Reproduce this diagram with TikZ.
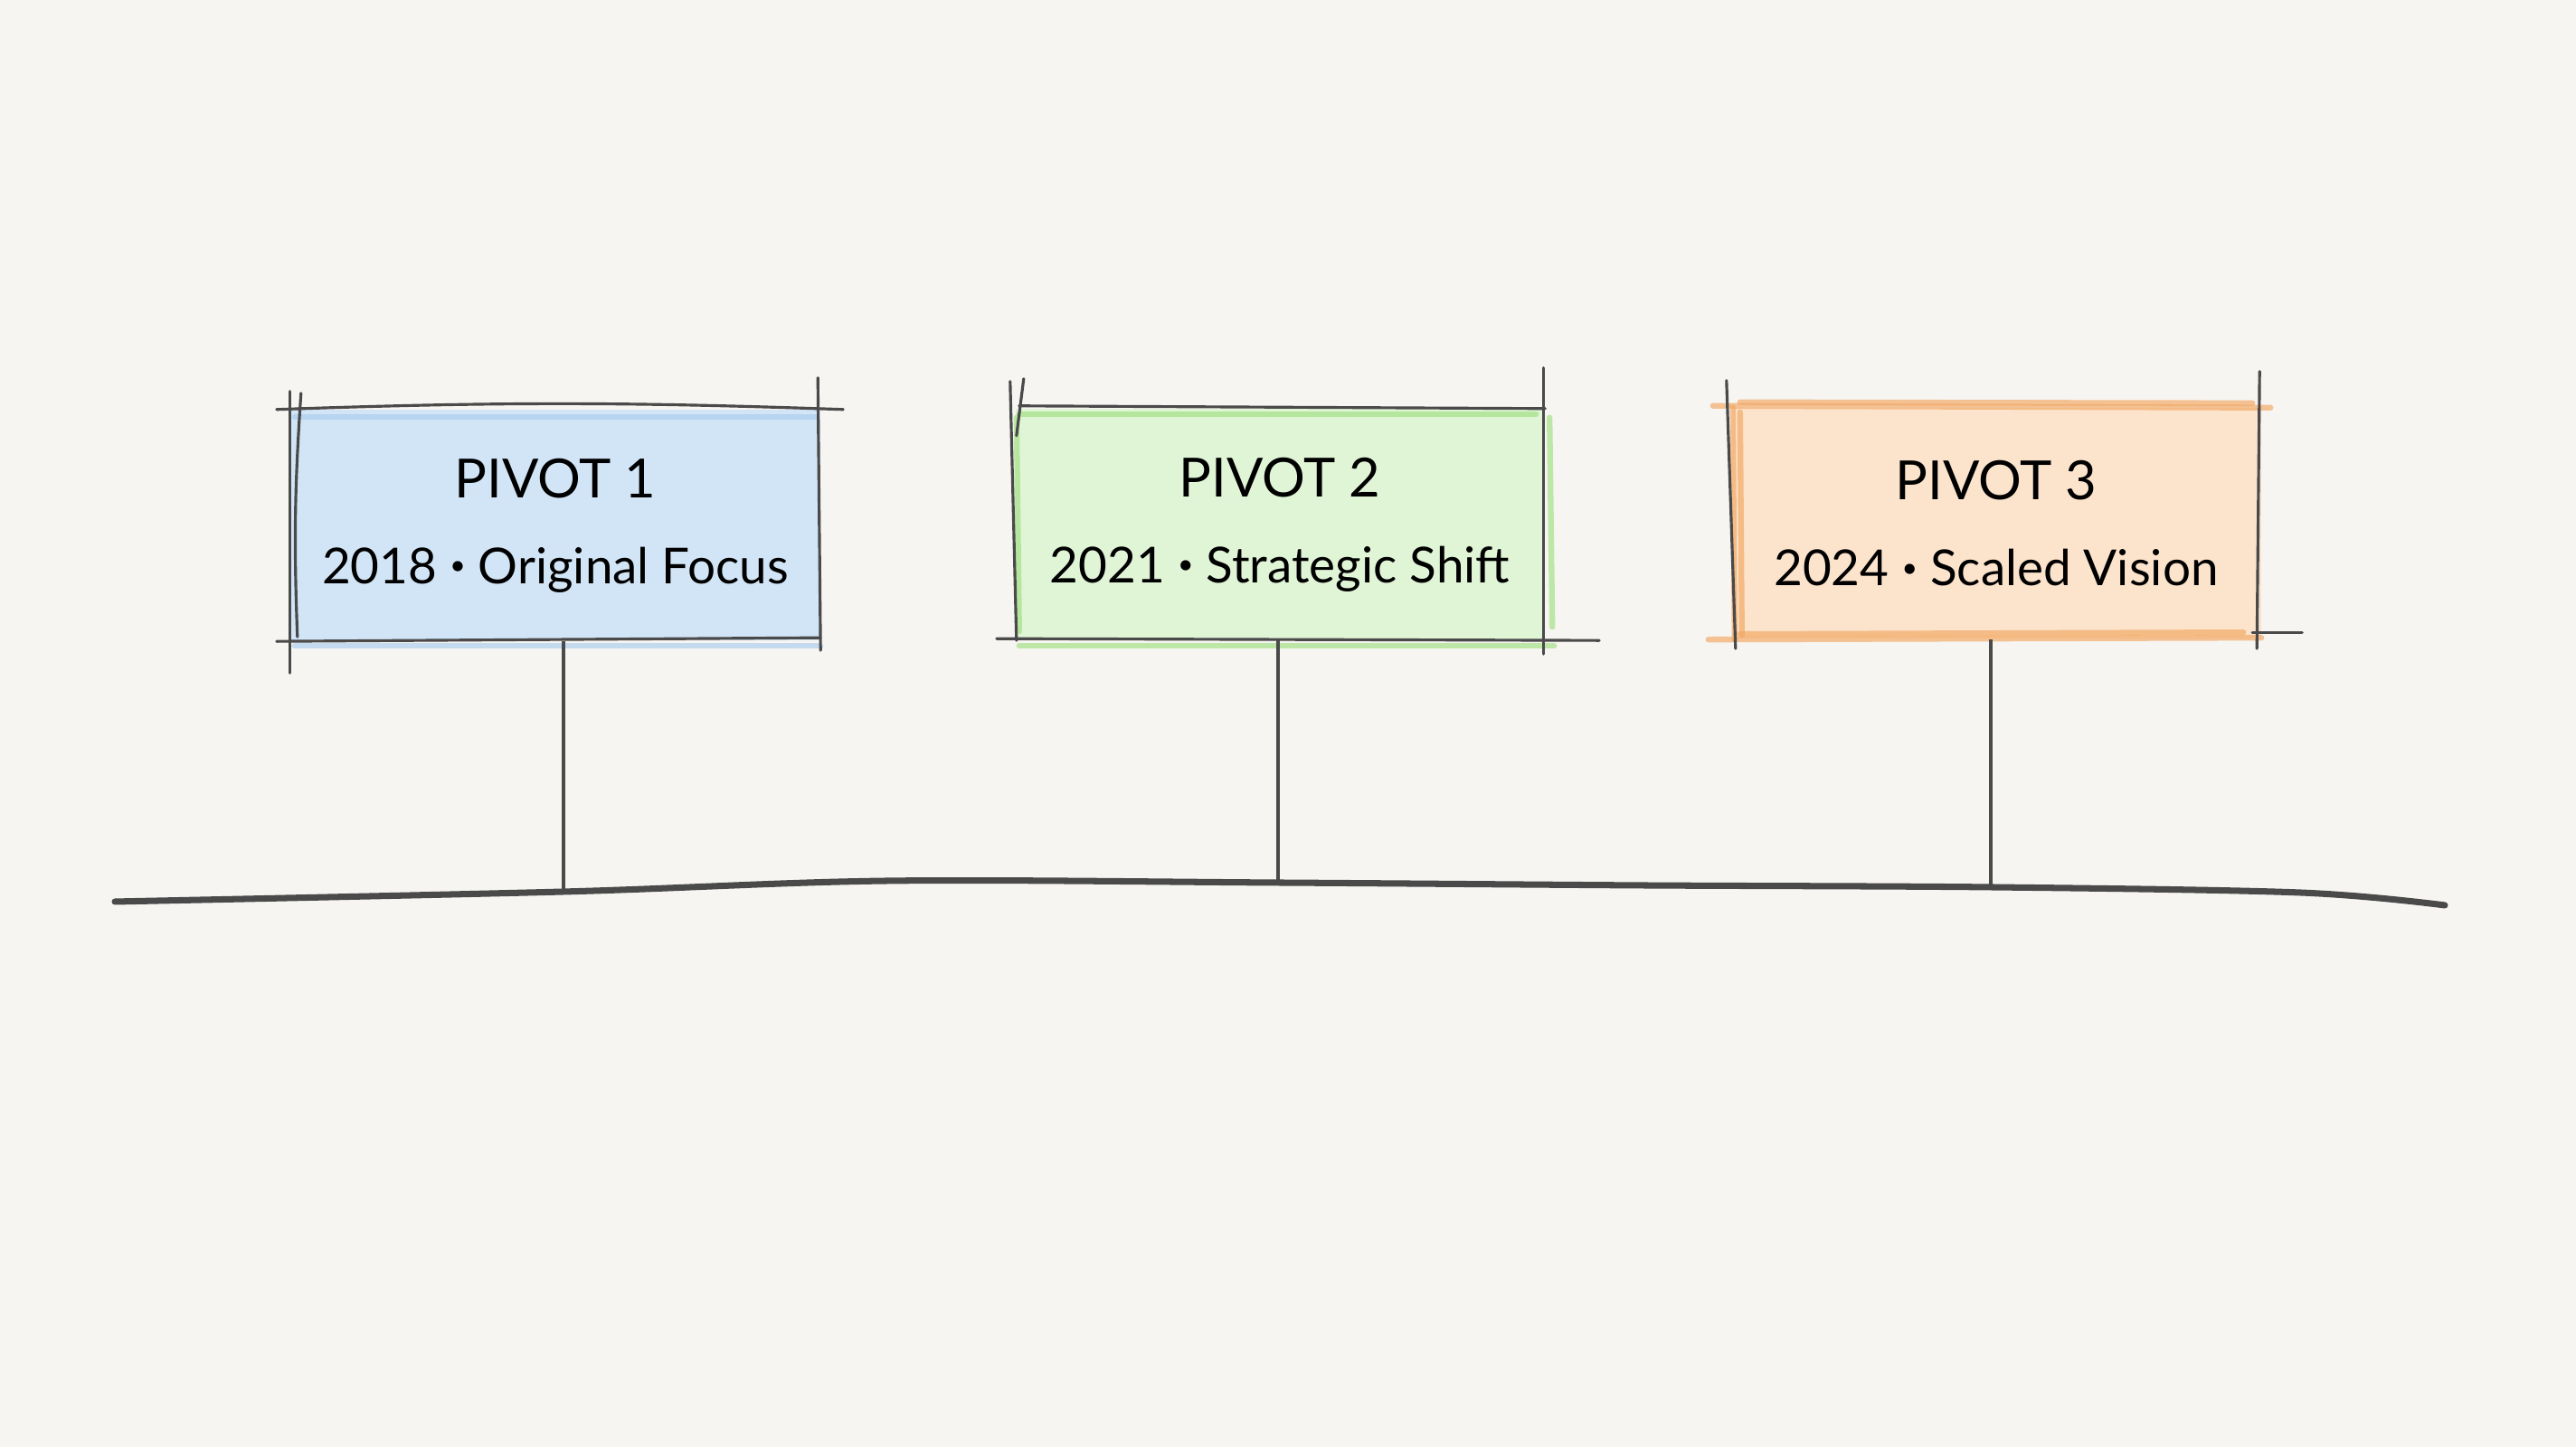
\documentclass[tikz,border=0pt]{standalone}
\usepackage{fontspec}
\setmainfont{Lato}
\usepackage{tikz}
\usetikzlibrary{positioning,calc}

\definecolor{paper}{HTML}{F6F5F2}
\definecolor{pencil}{HTML}{4A4A4A}
\definecolor{blueFill}{HTML}{D2E5F6}
\definecolor{greenFill}{HTML}{E0F4D6}
\definecolor{orangeFill}{HTML}{FBE3CC}
\definecolor{greenLine}{HTML}{9FE07F}
\definecolor{orangeLine}{HTML}{F2A660}
\definecolor{blueLine}{HTML}{A9CCEE}
\newcommand{\dotsep}{\raisebox{0.35ex}{\scalebox{0.55}{•}}}

\begin{document}
\begin{tikzpicture}[pivot/.style={rectangle,minimum width=5.85cm,minimum height=2.55cm,align=center,inner sep=0pt,font=\fontsize{15.6}{18}\selectfont},
pencilline/.style={line width=0.9pt,draw=pencil,line cap=round},
tint/.style={line width=1.8pt,line cap=round,opacity=0.65},
stem/.style={line width=1pt,draw=pencil},
timeline/.style={line width=2pt,draw=pencil,line cap=round}]
\useasboundingbox[fill=paper] (0,0) rectangle (28.48,16);

\node(p1)[pivot,fill=blueFill] at (6.14,10.19) {{\fontsize{17}{20}\selectfont PIVOT 1}\\[9pt]2018 \dotsep{} Original Focus};
\node(p2)[pivot,fill=greenFill] at (14.15,10.2) {{\fontsize{17}{20}\selectfont PIVOT 2}\\[9pt]2021 \dotsep{} Strategic Shift};
\node(p3)[pivot,fill=orangeFill] at (22.07,10.21) {{\fontsize{17}{20}\selectfont PIVOT 3}\\[9pt]2024 \dotsep{} Scaled Vision};

\draw [tint,draw=blueLine] ($(p1.south west)+(0.05,-0.05)$) -- ($(p1.south east)+(0,-0.05)$);
\draw [tint,draw=blueLine] ($(p1.north west)+(0.05,-0.08)$) -- ($(p1.north east)+(-0.05,-0.08)$);
\draw [tint,draw=greenLine] ($(p2.north west)+(0.05,-0.06)$) -- ($(p2.north east)+(-0.1,-0.06)$);
\draw [tint,draw=greenLine] ($(p2.south west)+(0.05,-0.06)$) -- ($(p2.south east)+(0.1,-0.06)$);
\draw [tint,draw=greenLine] ($(p2.north west)+(0.02,-0.1)$) -- ($(p2.south west)+(0.05,0.1)$);
\draw [tint,draw=greenLine] ($(p2.north east)+(0.05,-0.1)$) -- ($(p2.south east)+(0.08,0.15)$);
\draw [tint,draw=orangeLine] ($(p3.north west)+(-0.2,0.02)$) -- ($(p3.north east)+(0.1,0)$);
\draw [tint,draw=orangeLine] ($(p3.north west)+(0.1,0.06)$) -- ($(p3.north east)+(-0.1,0.05)$);
\draw [tint,draw=orangeLine] ($(p3.south west)+(-0.25,0)$) -- ($(p3.south east)+(0,0.02)$);
\draw [tint,draw=orangeLine] ($(p3.south west)+(0.1,0.06)$) -- ($(p3.south east)+(-0.2,0.08)$);
\draw [tint,draw=orangeLine] ($(p3.north west)+(0.02,0)$) -- ($(p3.south west)+(0.04,0)$);
\draw [tint,draw=orangeLine] ($(p3.north west)+(0.1,-0.05)$) -- ($(p3.south west)+(0.12,0.05)$);

\draw [pencilline] ($(p1.north west)+(-0.15,0)$) to[bend left=2] ($(p1.north east)+(0.25,0)$);
\draw [pencilline] ($(p1.south west)+(-0.15,0)$) -- ($(p1.south east)+(0,0.04)$);
\draw [pencilline] ($(p1.north west)+(0,0.2)$) -- ($(p1.south west)+(0,-0.35)$);
\draw [pencilline] ($(p1.north west)+(0.12,0.18)$) to[bend right=3] ($(p1.south west)+(0.08,0.05)$);
\draw [pencilline] ($(p1.north east)+(-0.03,0.35)$) -- ($(p1.south east)+(0,-0.1)$);
\draw [pencilline] ($(p2.north west)+(0.05,0.03)$) -- ($(p2.north east)+(0,0)$);
\draw [pencilline] ($(p2.south west)+(-0.2,0.02)$) -- ($(p2.south east)+(0.6,0)$);
\draw [pencilline] ($(p2.north west)+(-0.05,0.3)$) -- ($(p2.south west)+(0.02,0)$);
\draw [pencilline] ($(p2.north west)+(0.1,0.33)$) -- ($(p2.north west)+(0.02,-0.3)$);
\draw [pencilline] ($(p2.north east)+(-0.02,0.45)$) -- ($(p2.south east)+(-0.02,-0.15)$);
\draw [pencilline] ($(p3.north west)+(-0.05,0.3)$) -- ($(p3.south west)+(0.05,-0.1)$);
\draw [pencilline] ($(p3.north east)+(-0.02,0.4)$) -- ($(p3.south east)+(-0.05,-0.1)$);
\draw [pencilline] ($(p3.south east)+(-0.1,0.08)$) -- ($(p3.south east)+(0.45,0.08)$);

\coordinate (start) at (1.27,6.03);
\coordinate (t1) at (6.23,6.14);
\coordinate (t2) at (14.13,6.24);
\coordinate (t3) at (22.01,6.19);
\coordinate (stop) at (27.03,5.99);

\draw [timeline] plot[smooth,tension=0.55] coordinates {(start) (t1) (9.81,6.26) (t2) (18.16,6.21) (t3) (25.43,6.13) (stop)};

\draw [stem] (p1.south -| t1) -- (t1);
\draw [stem] (p2.south -| t2) -- (t2);
\draw [stem] (p3.south -| t3) -- (t3);
\end{tikzpicture}
\end{document}
